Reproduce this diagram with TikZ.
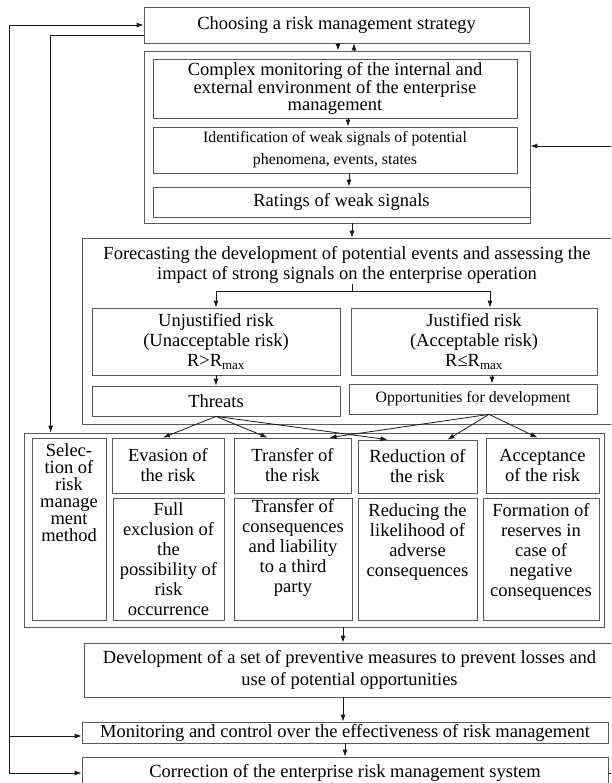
\documentclass[tikz,border=0pt]{standalone}
\usepackage{fontspec}
\setmainfont{Liberation Serif}
\usepackage{tikz}
\usetikzlibrary{arrows.meta}

\newcommand{\bigtext}{\fontsize{18.5}{20}\selectfont}
\newcommand{\widetext}{\fontsize{18.5}{22}\selectfont}
\newcommand{\tighttext}{\fontsize{18.5}{17}\selectfont}
\newcommand{\smalltext}{\fontsize{15.8}{22}\selectfont}

\begin{document}
\begin{tikzpicture}[x=1pt, y=-1pt, >={Latex[length=7pt,width=5pt]},
	box/.style={draw=black!65, line width=0.75pt, inner sep=0pt, align=center, font=\bigtext},
	txt/.style={inner sep=0pt, align=center, font=\bigtext},
	link/.style={->, draw=black!90, line width=0.8pt}]
	\useasboundingbox (0,0) rectangle (611,783);
	\clip (0,0) rectangle (611,783);

	% strategy and monitoring block
	\node[box, minimum width=385, minimum height=36] (choose) at (336.5,25) {Choosing a risk management strategy};
	\node[box, minimum width=386, minimum height=172] (mongroup) at (337,137) {};
	\node[box, minimum width=364, minimum height=59, font=\tighttext] (complex) at (335,88.5) {Complex monitoring of the internal and\\external environment of the enterprise\\management};
	\node[box, minimum width=364, minimum height=46, font=\smalltext] (ident) at (335,150) {Identification of weak signals of potential\\phenomena, events, states};
	\node[box, minimum width=377, minimum height=30] (ratings) at (341.5,202) {Ratings of weak signals};

	% forecasting block
	\node[box, minimum width=533, minimum height=186] (forecast) at (348.5,331) {};
	\node[txt] (fctext) at (347,265) {Forecasting the development of potential events and assessing the\\impact of strong signals on the enterprise operation};
	\node[box, minimum width=248, minimum height=67] (unjust) at (216,341.5) {Unjustified risk\\(Unacceptable risk)\\R>R\textsubscript{max}};
	\node[box, minimum width=246, minimum height=67] (just) at (474,341.5) {Justified risk\\(Acceptable risk)\\R≤R\textsubscript{max}};
	\node[box, minimum width=248, minimum height=30] (threats) at (216,401) {Threats};
	\node[box, minimum width=248, minimum height=30, font=\smalltext] (opport) at (473,399) {Opportunities for development};

	% methods block
	\node[box, minimum width=580, minimum height=194] (methods) at (314,530) {};
	\node[box, minimum width=74, minimum height=182] (selec) at (69,529) {};
	\node[txt, font=\tighttext] (selectext) at (69,493) {Selec-\\tion of\\risk\\manage\\ment\\method};
	\node[box, minimum width=112, minimum height=55] (evasion) at (168,465.5) {Evasion of\\the risk};
	\node[box, minimum width=117, minimum height=55] (transfer) at (292.5,465.5) {Transfer of\\the risk};
	\node[box, minimum width=119, minimum height=53] (reduction) at (417.5,466.5) {Reduction of\\the risk};
	\node[box, minimum width=113, minimum height=55] (accept) at (542.5,465.5) {Acceptance\\of the risk};
	\node[box, minimum width=111, minimum height=122] (fullbox) at (168.5,559) {};
	\node[box, minimum width=118, minimum height=122] (consbox) at (293,559) {};
	\node[box, minimum width=119, minimum height=122] (likebox) at (417.5,559) {};
	\node[box, minimum width=116, minimum height=122] (reservebox) at (541,559) {};
	\node[txt] (fulltext) at (168.5,559) {Full\\exclusion of\\the\\possibility of\\risk\\occurrence};
	\node[txt] (constext) at (293,548) {Transfer of\\consequences\\and liability\\to a third\\party};
	\node[txt] (liketext) at (417.5,542) {Reducing the\\likelihood of\\adverse\\consequences};
	\node[txt] (reservetext) at (541,551.5) {Formation of\\reserves in\\case of\\negative\\consequences};

	% final steps
	\node[box, minimum width=531, minimum height=54, font=\widetext] (develop) at (349.5,670) {Development of a set of preventive measures to prevent losses and\\use of potential opportunities};
	\node[box, minimum width=526, minimum height=21] (monitor) at (345,732.5) {Monitoring and control over the effectiveness of risk management};
	\node[box, minimum width=526, minimum height=32] (correct) at (345,773) {Correction of the enterprise risk management system};

	% arrows inside the blocks
	\draw[link] ([xshift=1.5pt]choose.south) -- ([xshift=1.5pt]choose.south |- mongroup.north);
	\draw[link] ([xshift=17pt]mongroup.north) -- ([xshift=17pt]mongroup.north |- choose.south);
	\draw[link] ([xshift=13pt]complex.south) -- ([xshift=13pt]complex.south |- ident.north);
	\draw[link] ([xshift=14pt]ident.south) -- ([xshift=14pt]ident.south |- ratings.north);
	\draw[link] ([xshift=15pt]mongroup.south) -- ([xshift=15pt]mongroup.south |- forecast.north);

	\coordinate (split) at (352,291);
	\draw[black!90, line width=0.8pt] (fctext.south -| split) -- (split);
	\draw[link] (split) -| (unjust.north);
	\draw[link] (split) -| ([xshift=16pt]just.north);
	\draw[link] (unjust.south) -- (threats.north);
	\draw[link] ([xshift=18pt]just.south) -- ([xshift=18pt]just.south |- opport.north);

	\draw[link] (threats.south) -- ([xshift=-5pt]evasion.north);
	\draw[link] (threats.south) -- ([xshift=-25pt]transfer.north);
	\draw[link] (threats.south) -- ([xshift=-30pt]reduction.north);
	\draw[link] ([xshift=16pt]opport.south) -- ([xshift=37pt]transfer.north);
	\draw[link] ([xshift=16pt]opport.south) -- ([xshift=30pt]reduction.north);
	\draw[link] ([xshift=16pt]opport.south) -- ([xshift=-5pt]accept.north);

	\draw[link] ([xshift=-6.5pt]develop.north |- methods.south) -- ([xshift=-6.5pt]develop.north);
	\draw[link] ([xshift=-2pt]monitor.north |- develop.south) -- ([xshift=-2pt]monitor.north);
	\draw[link] (monitor.south) -- (correct.north);

	% feedback lines
	\coordinate (lbot) at (9,773);
	\draw[link] (lbot) |- (choose.west);
	\draw[link] (lbot) -- (correct.west);
	\draw[link] (lbot |- 0,736) -- ([yshift=-3.5pt]monitor.west);
	\draw[link] ([yshift=-10pt]choose.west) -| ([xshift=27pt]methods.north west);
	\draw[link] (correct.east) -- ++(30,0) |- ([yshift=-9pt]mongroup.east);
\end{tikzpicture}
\end{document}
